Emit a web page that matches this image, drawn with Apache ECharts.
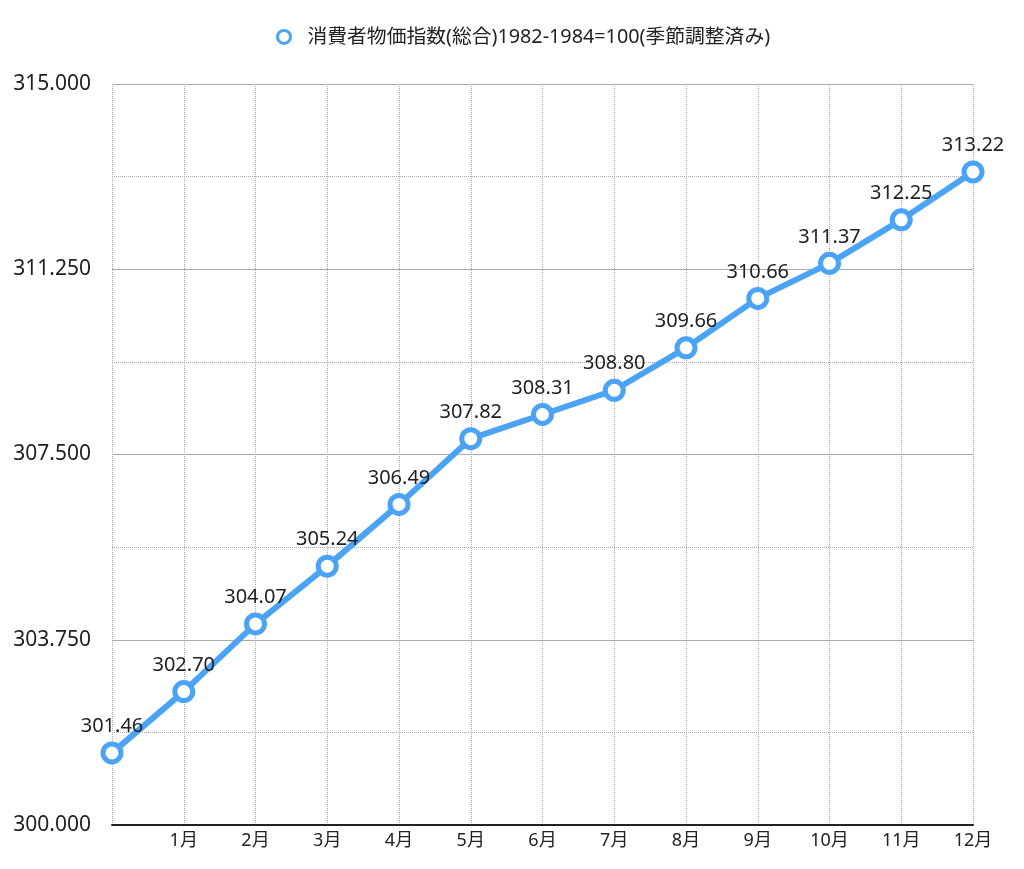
<!DOCTYPE html>
<html>
<head>
<meta charset="utf-8">
<script src="https://cdn.jsdelivr.net/npm/echarts@6/dist/echarts.min.js"></script>
<style>
html,body{margin:0;padding:0;background:#fff;}
#c{width:1024px;height:869px;}
</style>
</head>
<body>
<div id="c"></div>
<script>
const seriesName = '消費者物価指数(総合)1982-1984=100(季節調整済み)';
const categories = ['', '1月', '2月', '3月', '4月', '5月', '6月', '7月', '8月', '9月', '10月', '11月', '12月'];
const values = [301.46, 302.70, 304.07, 305.24, 306.49, 307.82, 308.31, 308.80, 309.66, 310.66, 311.37, 312.25, 313.22];
const yTicks = [300, 303.75, 307.5, 311.25, 315];

const font = '"Noto Sans", "Noto Sans CJK JP", sans-serif';
const blue = '#4ba3f6';
const chart = echarts.init(document.getElementById('c'));
chart.setOption({
  animation: false,
  textStyle: { fontFamily: font },
  legend: {
    top: 22,
    left: 271,
    data: [{ name: seriesName, icon: 'circle' }],
    itemWidth: 13,
    itemHeight: 13,
    itemStyle: { color: '#fff', borderColor: blue, borderWidth: 3 },
    textStyle: { fontSize: 19.8, color: '#222', fontFamily: font, padding: [0, 0, 0, 12] }
  },
  grid: { left: 112, right: 51, top: 84, bottom: 44, containLabel: false },
  xAxis: {
    type: 'category',
    data: categories,
    boundaryGap: false,
    axisLine: { show: true, lineStyle: { color: '#222', width: 2 } },
    axisTick: { show: false },
    axisLabel: { color: '#222', fontSize: 18, margin: 7, interval: 0, fontFamily: font },
    splitLine: { show: true, lineStyle: { color: '#aaa', type: [1, 1], width: 1 } }
  },
  yAxis: {
    type: 'value',
    min: yTicks[0],
    max: yTicks[yTicks.length - 1],
    interval: yTicks[1] - yTicks[0],
    axisLine: { show: false },
    axisTick: { show: false },
    axisLabel: {
      color: '#222', fontSize: 21, margin: 21, fontFamily: font,
      formatter: v => v.toFixed(3)
    },
    splitLine: { show: true, lineStyle: { color: '#aaa', width: 1 } },
    minorTick: { show: false, splitNumber: 2 },
    minorSplitLine: { show: true, lineStyle: { color: '#aaa', type: [1, 1], width: 1 } }
  },
  series: [{
    name: seriesName,
    type: 'line',
    data: values,
    color: blue,
    symbol: 'circle',
    symbolSize: 18,
    lineStyle: { width: 6, color: blue },
    itemStyle: { color: '#fff', borderColor: blue, borderWidth: 5 },
    label: {
      show: true,
      position: 'top',
      distance: 5,
      color: '#222',
      fontSize: 20,
      fontFamily: font,
      formatter: p => p.value.toFixed(2)
    }
  }]
});
</script>
</body>
</html>
